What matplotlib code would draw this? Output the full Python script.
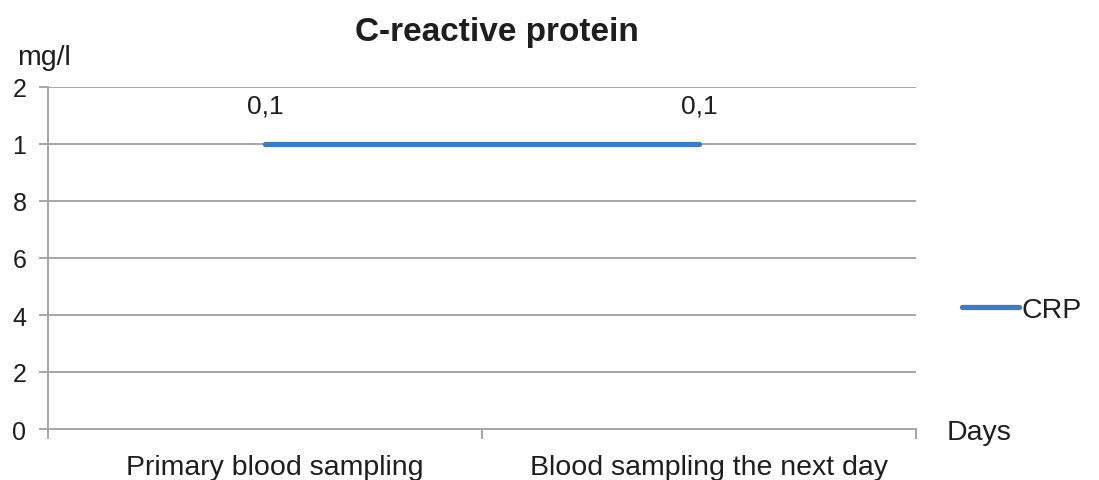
import matplotlib.pyplot as plt
import matplotlib.transforms as mtransforms
from matplotlib.lines import Line2D

plt.rcParams['font.family'] = ['Liberation Sans', 'DejaVu Sans']

# CRP measurements (mg/l)
days = ["Primary blood sampling", "Blood sampling the next day"]
crp = [0.1, 0.1]
point_labels = ["0,1", "0,1"]
y_ticks = [0, 0.02, 0.04, 0.06, 0.08, 0.1, 0.12]
# the value axis labels only show their last digit on the narrow left margin
y_tick_labels = ["0", "2", "4", "6", "8", "1", "2"]

grid_col = "#a6a6a6"
line_col = "#3d7cc0"
text_col = "#1e1e1e"

fig = plt.figure(figsize=(10.99, 4.81), dpi=100)
ax = fig.add_axes([48 / 1099, 1 - 430 / 481, 868 / 1099, 342 / 481])

ax.plot(range(len(days)), crp, color=line_col, lw=3.8, solid_capstyle="round")
for i, (v, lab) in enumerate(zip(crp, point_labels)):
    ax.annotate(lab, (i, v), xytext=(0, 19), textcoords="offset points",
                ha="center", va="bottom", fontsize=19, color=text_col)

ax.set_xlim(-0.5, len(days) - 0.5)
ax.set_ylim(0, 0.12)
ax.set_yticks(y_ticks)
ax.set_yticklabels(y_tick_labels, fontsize=18, color=text_col)
ax.yaxis.grid(True, color=grid_col, lw=1.4)
ax.set_axisbelow(True)

# category ticks sit between the groups, labels a little right of the group centres
ax.set_xticks([-0.5, 0.5, 1.5])
ax.set_xticklabels([])
ax.tick_params(axis="x", length=7, width=1.4, color=grid_col)
ax.tick_params(axis="y", length=6.5, width=1.4, color=grid_col, pad=9)
cat_trans = ax.get_xaxis_transform() + mtransforms.ScaledTranslation(0.10, -0.38, fig.dpi_scale_trans)
for i, name in enumerate(days):
    ax.text(i, 0, name, transform=cat_trans, ha="center", va="center",
            fontsize=20.5, color=text_col)

for side in ["top", "right"]:
    ax.spines[side].set_visible(False)
for side in ["left", "bottom"]:
    ax.spines[side].set_color(grid_col)
    ax.spines[side].set_linewidth(1.4)

fig.text(497 / 1099, 1 - 33 / 481, "C-reactive protein", ha="center", va="center",
         fontsize=24, fontweight="bold", color=text_col)
fig.text(17 / 1099, 1 - 58 / 481, "mg/l", ha="left", va="center", fontsize=20.5, color=text_col)
fig.text(947 / 1099, 1 - 433 / 481, "Days", ha="left", va="center", fontsize=20.5, color=text_col)

handle = Line2D([], [], color=line_col, lw=3.8, solid_capstyle="round")
fig.legend([handle], ["CRP"], loc="center left", bbox_to_anchor=(942 / 1099, 1 - 311 / 481),
           frameon=False, fontsize=20.5, handlelength=2.0, handletextpad=0.1,
           labelcolor=text_col, borderpad=0.2)

fig.savefig("out.png", dpi=100)
